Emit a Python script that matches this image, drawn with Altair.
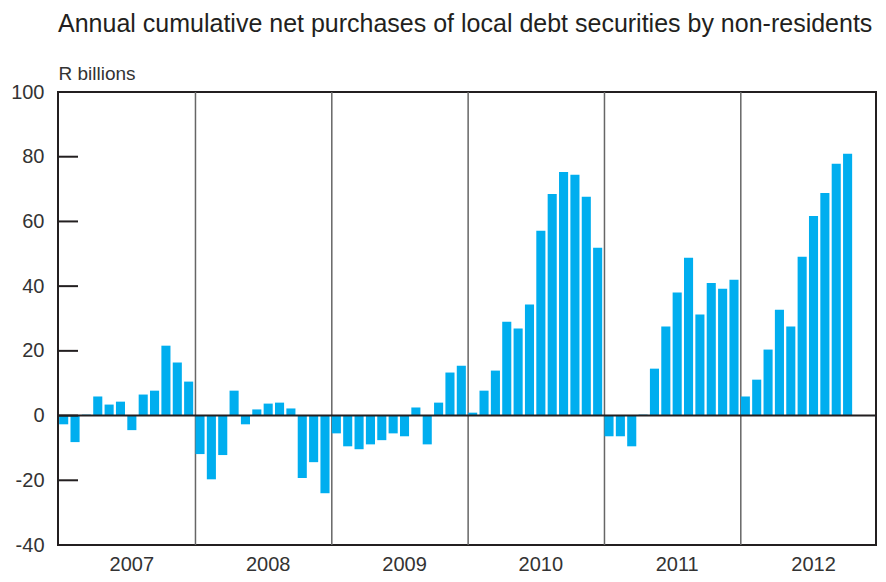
import altair as alt
import pandas as pd

title_text = "Annual cumulative net purchases of local debt securities by non-residents"
unit_text = "R billions"

years = ["2007", "2008", "2009", "2010", "2011", "2012"]
months = ["01", "02", "03", "04", "05", "06", "07", "08", "09", "10", "11", "12"]

v2007 = [-2.7, -8.2, 0.3, 5.9, 3.4, 4.3, -4.5, 6.5, 7.7, 21.6, 16.4, 10.5]
v2008 = [-11.9, -19.7, -12.2, 7.7, -2.7, 1.9, 3.7, 4.0, 2.2, -19.3, -14.4, -24.0]
v2009 = [-5.5, -9.5, -10.4, -8.9, -7.6, -5.5, -6.4, 2.5, -8.9, 4.0, 13.3, 15.4]
v2010 = [0.9, 7.7, 13.9, 29.0, 26.9, 34.3, 57.1, 68.5, 75.3, 74.4, 67.6, 51.9]
v2011 = [-6.4, -6.4, -9.5, 0.3, 14.5, 27.5, 38.0, 48.8, 31.2, 41.0, 39.2, 42.0]
v2012 = [5.9, 11.1, 20.4, 32.7, 27.5, 49.1, 61.7, 68.8, 77.8, 80.9]

y_ticks = [-40, -20, 0, 20, 40, 60, 80, 100]

keys = [f"{y}-{m}" for y in years for m in months]
vals = v2007 + v2008 + v2009 + v2010 + v2011 + v2012
df = pd.DataFrame({"key": keys[:len(vals)], "value": vals})

W, H = 818, 453
FONT = "Liberation Sans"
TXT = "#333333"
DARK = "#231f20"

xscale = alt.Scale(domain=keys, paddingInner=0.2, paddingOuter=0.1)
yscale = alt.Scale(domain=[-40, 100], nice=False, zero=False)

x_axis = alt.Axis(
    values=[f"{y}-07" for y in years],
    labelExpr="substring(datum.value, 0, 4)",
    ticks=False, domain=False, grid=False, labelAngle=0,
    labelPadding=9, labelFontSize=20, labelColor=TXT, labelFont=FONT,
    title=None, bandPosition=0,
)
y_axis = alt.Axis(
    values=y_ticks, ticks=False, domain=False, grid=False,
    labelExpr="'' + datum.value",
    labelPadding=14, labelFontSize=20, labelColor=TXT, labelFont=FONT,
    title=unit_text, titleAngle=0, titleAlign="left", titleBaseline="alphabetic",
    titleX=0, titleY=-13, titleFontSize=19, titleFontWeight="normal",
    titleColor=TXT, titleFont=FONT,
)

X = alt.X("key:N", scale=xscale, sort=keys, axis=x_axis)
Y = alt.Y("value:Q", scale=yscale, axis=y_axis)

sep_df = pd.DataFrame({"key": [f"{y}-01" for y in years[1:]]})
seps = alt.Chart(sep_df).mark_rule(color="#666666", strokeWidth=1.5).encode(
    x=alt.X("key:N", scale=xscale, sort=keys, axis=x_axis, bandPosition=0),
    y=alt.value(0), y2=alt.value(H),
)

bars = alt.Chart(df).mark_bar(color="#00AEEF").encode(x=X, y=Y)

zero = alt.Chart(pd.DataFrame({"value": [0]})).mark_rule(color=DARK, strokeWidth=2).encode(
    y=Y, x=alt.value(0), x2=alt.value(W)
)

ticks = alt.Chart(pd.DataFrame({"value": y_ticks})).mark_rule(color=DARK, strokeWidth=2).encode(
    y=Y, x=alt.value(0), x2=alt.value(20)
)

title = alt.Chart(pd.DataFrame({"t": [title_text]})).mark_text(
    align="left", baseline="alphabetic", fontSize=25, color=DARK, font=FONT
).encode(text="t:N", x=alt.value(0), y=alt.value(-60))

chart = alt.layer(seps, bars, zero, ticks, title).properties(
    width=W, height=H, autosize="none",
    padding={"left": 50, "top": 84, "right": 2, "bottom": 29},
).configure(font=FONT).configure_view(stroke=DARK, strokeWidth=2)

chart.save("out.html", embed_options={"renderer": "svg", "actions": False})
